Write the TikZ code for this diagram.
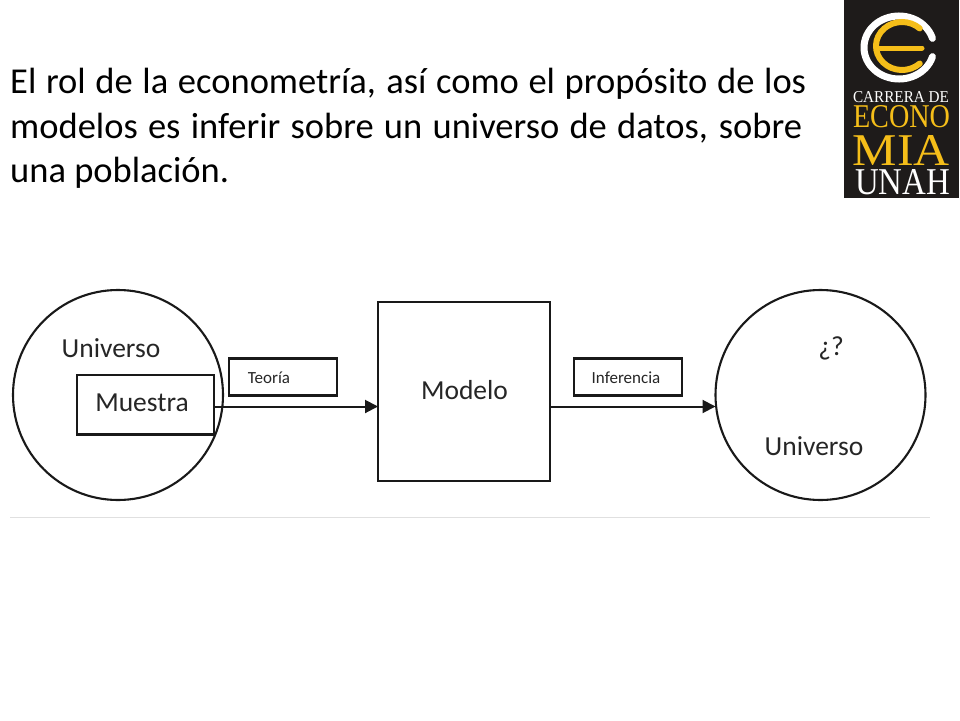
\documentclass[tikz,border=0pt]{standalone}
\usepackage{fontspec}
\setmainfont{Carlito}
\newfontfamily\logofont{Liberation Serif}
\usetikzlibrary{arrows.meta}
\definecolor{logoyellow}{RGB}{245,190,25}
\definecolor{logoblack}{RGB}{30,27,26}
\tikzset{
  boxnode/.style={draw=black!90,line width=2.1pt,inner sep=0pt},
  lbl/.style={inner sep=0pt,text=black!85,anchor=center},
  biglbl/.style={lbl,font=\fontsize{27.5}{30}\selectfont},
  smalllbl/.style={lbl,font=\fontsize{17}{20}\selectfont},
  conn/.style={draw=black!90,line width=2pt,-{Triangle[length=13pt,width=13pt]}},
  titleline/.style={inner sep=0pt,anchor=base west,text=black},
  logotxt/.style={inner sep=0pt,anchor=center,font=\logofont}
}
\newcommand{\tline}[2]{\hbox to #1{\fontsize{36.5}{43}\selectfont\spaceskip=0.2em plus 1em minus 0.08em\relax #2}}
\begin{document}
\begin{tikzpicture}[x=1pt,y=-1pt]
\useasboundingbox (0,0) rectangle (960,720);
\fill[white] (0,0) rectangle (960,720);
\node[titleline] (t1) at (10,93) {\tline{796pt}{El rol de la econometría, así como el propósito de los}};
\node[titleline] (t2) at (10,138) {\tline{792pt}{modelos es inferir sobre un universo de datos, sobre}};
\node[titleline] (t3) at (10,182) {\fontsize{36.5}{43}\selectfont una población.};
% logo
\fill[logoblack] (844,0) rectangle (959,198);
\draw[white,line width=7pt,line cap=round] (899,47.5) ++(17:35 and 31.5) arc (17:343:35 and 31.5);
\draw[logoyellow,line width=6pt,line cap=round] (902,46) ++(47:26 and 24) arc (47:313:26 and 24);
\draw[logoyellow,line width=5pt,line cap=round] (880,48) -- (922,48);
\node[logotxt,text=white] (l1) at (901,97.5) {\resizebox{96pt}{11pt}{CARRERA DE}};
\node[logotxt,text=logoyellow] (l2) at (901.5,117) {\resizebox{97pt}{22pt}{ECONO}};
\node[logotxt,text=logoyellow] (l3) at (901.5,150) {\resizebox{97pt}{30pt}{MIA}};
\node[logotxt,text=white] (l4) at (902.5,182.5) {\resizebox{95pt}{25pt}{UNAH}};
% diagram
\node[boxnode,circle,minimum size=210pt] (c1) at (118,395) {};
\node[boxnode,circle,minimum size=210pt] (c2) at (820.5,395) {};
\node[boxnode,minimum width=137pt,minimum height=59.5pt] (sam) at (145.5,404.75) {};
\node[boxnode,minimum width=108pt,minimum height=37pt] (teo) at (283,377) {};
\node[boxnode,minimum width=108pt,minimum height=37pt] (inf) at (628,377) {};
\node[boxnode,minimum width=172pt,minimum height=179pt] (mod) at (464,391.5) {};
\coordinate (mr) at (214,406.5);
\coordinate (ml) at (378,406.5);
\coordinate (mrr) at (550,406.5);
\coordinate (cl) at (715.5,406.5);
\draw[conn] (mr) -- (ml);
\draw[conn] (mrr) -- (cl);
\node[biglbl] (u1) at (111,348) {Universo};
\node[biglbl] (m1) at (142,403) {Muestra};
\node[smalllbl] (tt) at (269,378) {Teoría};
\node[smalllbl] (ti) at (626,378) {Inferencia};
\node[biglbl] (m2) at (464.5,390) {Modelo};
\node[biglbl] (q) at (831,348) {¿?};
\node[biglbl] (u2) at (814,446) {Universo};
\draw[black!12,line width=0.8pt] (10,517.5) -- (930,517.5);
\end{tikzpicture}
\end{document}
